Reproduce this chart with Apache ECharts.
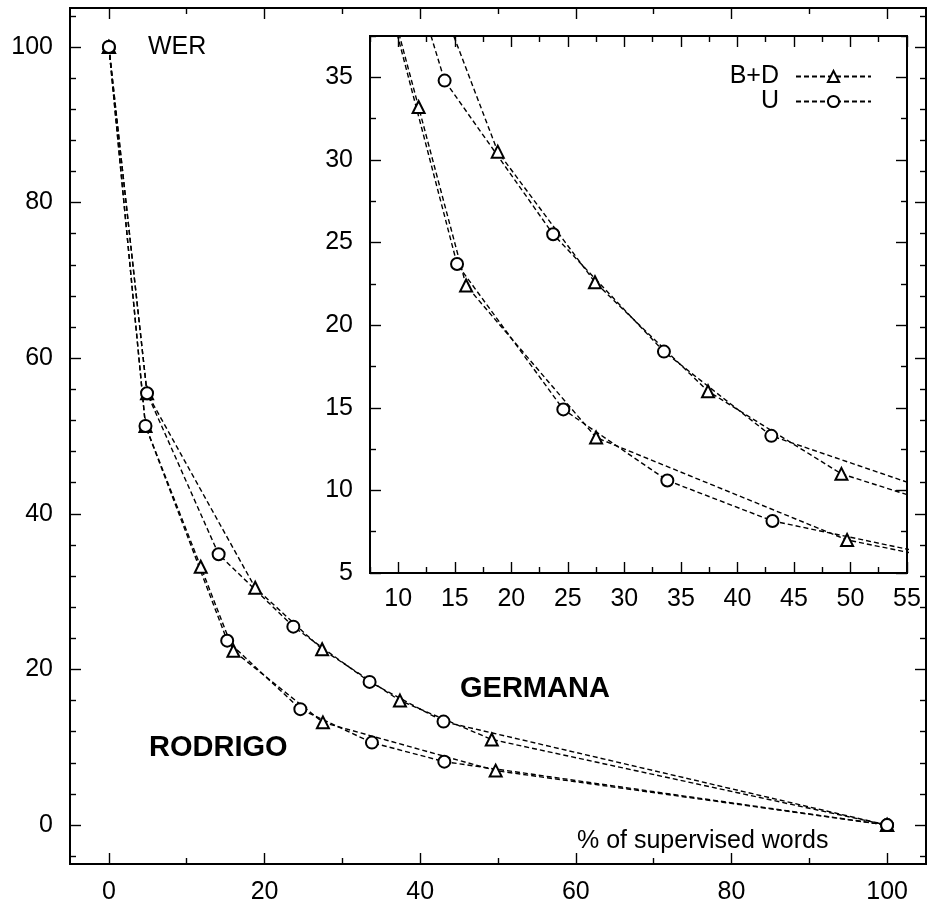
<!DOCTYPE html>
<html><head><meta charset="utf-8">
<script src="https://cdn.jsdelivr.net/npm/echarts@6/dist/echarts.min.js"></script>
<style>html,body{margin:0;padding:0;background:#fff}#c{width:931px;height:909px}</style>
</head><body><div id="c"></div>
<script>
// ---- data ----
const germanaBDx = [0, 4.9, 18.8, 27.4, 37.4, 49.2, 100];
const germanaBDy = [100, 55.5, 30.5, 22.6, 16.0, 11.0, 0];
const germanaUx  = [0, 4.9, 14.1, 23.7, 33.5, 43.0, 100];
const germanaUy  = [100, 55.5, 34.8, 25.5, 18.4, 13.3, 0];
const rodrigoBDx = [0, 4.7, 11.8, 16.0, 27.5, 49.7, 100];
const rodrigoBDy = [100, 51.3, 33.2, 22.4, 13.2, 7.0, 0];
const rodrigoUx  = [0, 4.7, 15.2, 24.6, 33.8, 43.1, 100];
const rodrigoUy  = [100, 51.3, 23.7, 14.9, 10.6, 8.15, 0];

// ---- tick values ----
const mainXMajor = [0, 20, 40, 60, 80, 100];
const mainXMinor = [10, 30, 50, 70, 90];
const mainYMajor = [0, 20, 40, 60, 80, 100];
const mainYMinor = [-4, 4, 8, 12, 16, 24, 28, 32, 36, 44, 48, 52, 56, 64, 68, 72, 76, 84, 88, 92, 96, 104];
const insetXMajor = [10, 15, 20, 25, 30, 35, 40, 45, 50, 55];
const insetXMinor = [7.5, 12.5, 17.5, 22.5, 27.5, 32.5, 37.5, 42.5, 47.5, 52.5];
const insetYMajor = [5, 10, 15, 20, 25, 30, 35];
const insetYMinor = [7.5, 12.5, 17.5, 22.5, 27.5, 32.5, 37.5];

const FONT = 'Liberation Sans, Arial, Helvetica, sans-serif';
const FS = 25;

function zip(xs, ys) { return xs.map((x, i) => [x, ys[i]]); }

function ax(grid, pos, min, max, ticks, len, labels, margin, zl) {
  return {
    type: 'value', gridIndex: grid, position: pos, min: min, max: max, zlevel: zl,
    axisLine: { show: false, onZero: false },
    splitLine: { show: false },
    axisTick: { show: true, inside: true, length: len, customValues: ticks,
      lineStyle: { color: '#000', width: 1.4 } },
    axisLabel: labels ? { show: true, customValues: labels, margin: margin,
      fontSize: FS, fontFamily: FONT, color: '#000' } : { show: false },
    axisPointer: { show: false }
  };
}

const xAxes = [
  ax(0, 'bottom', -5, 105, mainXMajor, 11, mainXMajor, 16, 0),
  ax(0, 'bottom', -5, 105, mainXMinor, 6, null, 0, 0),
  ax(0, 'top', -5, 105, mainXMajor, 11, null, 0, 0),
  ax(0, 'top', -5, 105, mainXMinor, 6, null, 0, 0),
  ax(1, 'bottom', 7.5, 55, insetXMajor, 11, insetXMajor, 14, 1),
  ax(1, 'bottom', 7.5, 55, insetXMinor, 6, null, 0, 1),
  ax(1, 'top', 7.5, 55, insetXMajor, 11, null, 0, 1),
  ax(1, 'top', 7.5, 55, insetXMinor, 6, null, 0, 1)
];
const yAxes = [
  ax(0, 'left', -5, 105, mainYMajor, 11, mainYMajor, 17, 0),
  ax(0, 'left', -5, 105, mainYMinor, 6, null, 0, 0),
  ax(0, 'right', -5, 105, mainYMajor, 11, null, 0, 0),
  ax(0, 'right', -5, 105, mainYMinor, 6, null, 0, 0),
  ax(1, 'left', 5, 37.5, insetYMajor, 11, insetYMajor, 17, 1),
  ax(1, 'left', 5, 37.5, insetYMinor, 6, null, 0, 1),
  ax(1, 'right', 5, 37.5, insetYMajor, 11, null, 0, 1),
  ax(1, 'right', 5, 37.5, insetYMinor, 6, null, 0, 1)
];

function ser(name, data, sym, xi, yi, zl) {
  return {
    type: 'line', name: name, data: data, xAxisIndex: xi, yAxisIndex: yi, zlevel: zl,
    symbol: sym, symbolSize: 12, showSymbol: true, clip: true,
    lineStyle: { color: '#000', width: 1.4, type: [5, 3] },
    itemStyle: { color: '#000', borderColor: '#000', borderWidth: 1.5 },
    emphasis: { disabled: true }, animation: false
  };
}

const series = [];
[[0, 0, 0], [4, 4, 1]].forEach(([xi, yi, zl]) => {
  series.push(ser('B+D', zip(germanaBDx, germanaBDy), 'emptyTriangle', xi, yi, zl));
  series.push(ser('U', zip(germanaUx, germanaUy), 'emptyCircle', xi, yi, zl));
  series.push(ser('B+D', zip(rodrigoBDx, rodrigoBDy), 'emptyTriangle', xi, yi, zl));
  series.push(ser('U', zip(rodrigoUx, rodrigoUy), 'emptyCircle', xi, yi, zl));
});

const chart = echarts.init(document.getElementById('c'), null, { renderer: 'canvas' });
chart.setOption({
  animation: false,
  backgroundColor: '#fff',
  grid: [
    { left: 70, top: 8, width: 856, height: 856, show: true, backgroundColor: 'transparent',
      borderColor: '#000', borderWidth: 2, zlevel: 0 },
    { left: 370, top: 36, width: 537, height: 537, show: true, backgroundColor: '#fff',
      borderColor: '#000', borderWidth: 2, zlevel: 1 }
  ],
  xAxis: xAxes,
  yAxis: yAxes,
  legend: {
    zlevel: 1, data: ['B+D', 'U'], orient: 'vertical', align: 'right',
    right: 59, top: 64, itemWidth: 75, itemHeight: 14, itemGap: 0, padding: 0,
    selectedMode: false,
    textStyle: { fontSize: FS, fontFamily: FONT, color: '#000', padding: [0, 12, 0, 0] }
  },
  graphic: [
    { type: 'text', x: 148, y: 47, style: { text: 'WER', font: FS + 'px ' + FONT, fill: '#000',
      textAlign: 'left', textVerticalAlign: 'middle', align: 'left', verticalAlign: 'middle' } },
    { type: 'text', x: 149, y: 748, style: { text: 'RODRIGO', font: 'bold 29px ' + FONT, fill: '#000',
      textAlign: 'left', textVerticalAlign: 'middle', align: 'left', verticalAlign: 'middle' } },
    { type: 'text', x: 460, y: 689, style: { text: 'GERMANA', font: 'bold 29px ' + FONT, fill: '#000',
      textAlign: 'left', textVerticalAlign: 'middle', align: 'left', verticalAlign: 'middle' } },
    { type: 'text', x: 577, y: 841, style: { text: '% of supervised words', font: FS + 'px ' + FONT, fill: '#000',
      textAlign: 'left', textVerticalAlign: 'middle', align: 'left', verticalAlign: 'middle' } }
  ],
  series: series
});
</script></body></html>
